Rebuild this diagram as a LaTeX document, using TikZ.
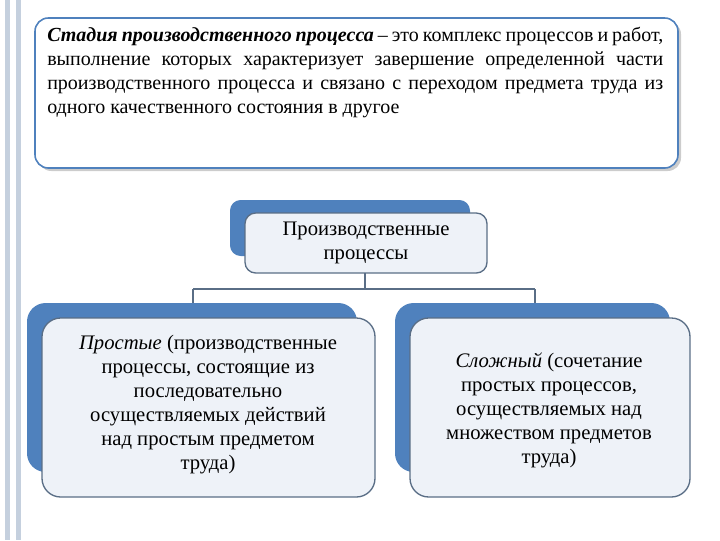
\documentclass[tikz,border=0pt]{standalone}
\usepackage{fontspec}
\setmainfont{Liberation Serif}
\newfontfamily\ser{Liberation Serif}
\begin{document}
\begin{tikzpicture}[x=0.75pt,y=-0.75pt,
  wbox/.style={fill=lightfill,draw=edge,line width=1pt,rounded corners=10pt},
  txt/.style={align=center,font=\ser\fontsize{15.5}{18}\selectfont}]
\definecolor{blue1}{HTML}{4F81BD}
\definecolor{lightfill}{HTML}{EEF2F8}
\definecolor{edge}{HTML}{5A6E86}
\definecolor{stripe}{HTML}{C5D0DE}
\useasboundingbox (0,0) rectangle (720,540);
\fill[stripe] (5,0) rectangle (10,540);
\fill[stripe] (16,0) rectangle (21,540);
% top box
\fill[gray!40,rounded corners=10pt] (38,21) rectangle (681,171);
\draw[draw=blue1,line width=1.2pt,fill=white,rounded corners=10pt] (35,18) rectangle (678,168);
\node[anchor=north west,text width=462pt,align=justify,inner sep=0pt,font=\ser\fontsize{15}{18}\selectfont] (toptext) at (47,27)
{\textbf{\textit{Стадия производственного процесса}} – это комплекс процессов и работ, выполнение которых характеризует завершение определенной части производственного процесса и связано с переходом предмета труда из одного качественного состояния в другое};
% middle
\fill[blue1,rounded corners=8pt] (230,200) rectangle (470,256);
\draw[wbox,rounded corners=8pt] (245,213) rectangle (487,273);
\node[txt] (mid) at (366,243) {Производственные\\процессы};
% left
\fill[blue1,rounded corners=14pt] (27,303) rectangle (357,472);
\draw[wbox,rounded corners=14pt] (42,318) rectangle (375,497);
\node[txt] (leftt) at (208,405) {\textit{Простые} (производственные\\процессы, состоящие из\\последовательно\\осуществляемых действий\\над простым предметом\\труда)};
% right
\fill[blue1,rounded corners=14pt] (395,303) rectangle (670,472);
\draw[wbox,rounded corners=14pt] (410,318) rectangle (690,497);
\node[txt] (rightt) at (549,410) {\textit{Сложный} (сочетание\\простых процессов,\\осуществляемых над\\множеством предметов\\труда)};
% connectors
\coordinate (j) at (365,289);
\coordinate (mb) at (365,273);
\draw[edge,line width=1.2pt] (mb) -- (j);
\draw[edge,line width=1.2pt] (193,289) -- (535,289);
\draw[edge,line width=1.2pt] (193,289) -- (193,303);
\draw[edge,line width=1.2pt] (535,289) -- (535,303);
\end{tikzpicture}
\end{document}
